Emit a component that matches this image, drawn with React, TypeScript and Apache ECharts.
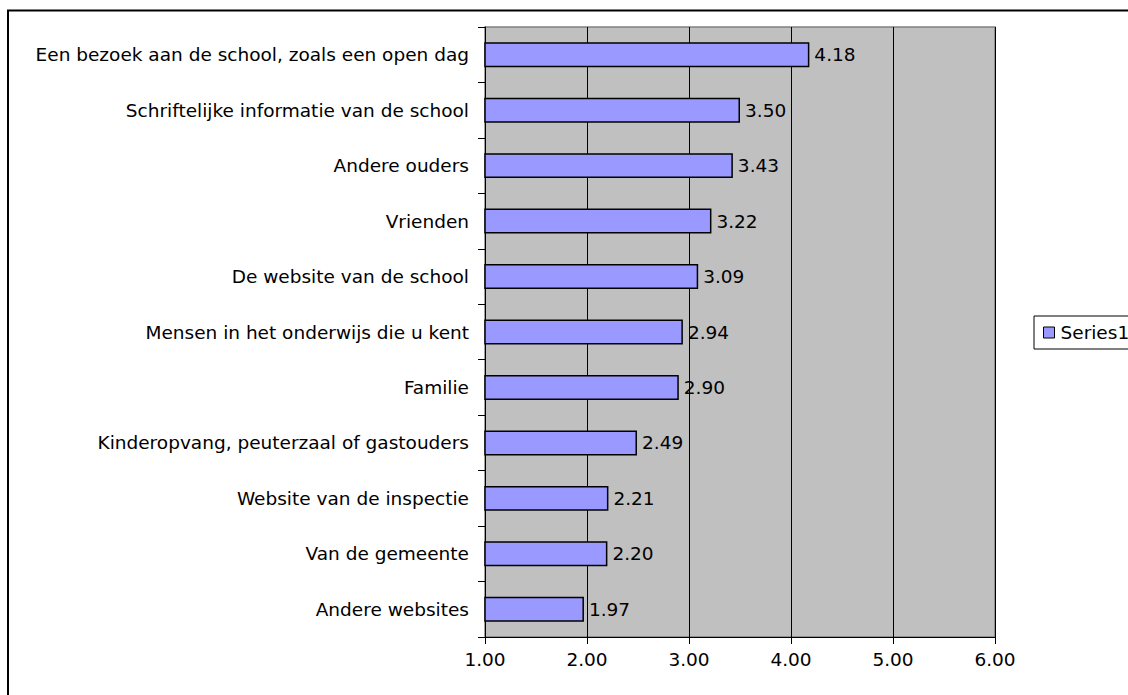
import React, { useEffect, useRef } from "react";
import * as echarts from "echarts";

const categories: string[] = [
  "Een bezoek aan de school, zoals een open dag",
  "Schriftelijke informatie van de school",
  "Andere ouders",
  "Vrienden",
  "De website van de school",
  "Mensen in het onderwijs die u kent",
  "Familie",
  "Kinderopvang, peuterzaal of gastouders",
  "Website van de inspectie",
  "Van de gemeente",
  "Andere websites",
];

const values: number[] = [4.18, 3.5, 3.43, 3.22, 3.09, 2.94, 2.9, 2.49, 2.21, 2.2, 1.97];

const seriesName = "Series1";
const axisMin = 1;
const axisMax = 6;
const axisInterval = 1;

const FONT = "DejaVu Sans, Liberation Sans, Arial, sans-serif";
const FS = 18.5;

export default function App() {
  const ref = useRef<HTMLDivElement>(null);

  useEffect(() => {
    if (!ref.current) return;
    const chart = echarts.init(ref.current, null, { renderer: "svg" });
    chart.setOption({
      animation: false,
      backgroundColor: "#ffffff",
      textStyle: { fontFamily: FONT },
      graphic: [
        {
          type: "rect",
          shape: { x: 8, y: 10.5, width: 1300, height: 900 },
          style: { fill: "none", stroke: "#000", lineWidth: 2 },
          silent: true,
          z: 100,
        },
      ],
      grid: {
        left: 485,
        top: 27,
        right: 133,
        bottom: 58,
        show: true,
        backgroundColor: "#C0C0C0",
        borderColor: "#808080",
        borderWidth: 1.5,
      },
      legend: {
        show: true,
        data: [seriesName],
        left: 1034,
        top: 316,
        orient: "vertical",
        icon: "rect",
        itemWidth: 11,
        itemHeight: 11,
        itemGap: 5,
        padding: [7, 8, 7, 9],
        borderColor: "#000",
        borderWidth: 1,
        backgroundColor: "#fff",
        textStyle: { fontFamily: FONT, fontSize: FS, color: "#000", padding: [0, 0, 0, 1] },
        itemStyle: { borderColor: "#000", borderWidth: 1 },
      },
      xAxis: {
        type: "value",
        min: axisMin,
        max: axisMax,
        interval: axisInterval,
        axisLine: { show: true, lineStyle: { color: "#000", width: 1 } },
        axisTick: { show: true, length: 7, inside: false, lineStyle: { color: "#000" } },
        axisLabel: {
          fontFamily: FONT,
          fontSize: FS,
          color: "#000",
          margin: 13,
          formatter: (v: number) => v.toFixed(2),
        },
        splitLine: { show: true, lineStyle: { color: "#000", width: 1 } },
      },
      yAxis: {
        type: "category",
        data: categories,
        inverse: true,
        axisLine: { show: true, onZero: false, lineStyle: { color: "#000", width: 1 } },
        axisTick: { show: true, length: 7, alignWithLabel: false, lineStyle: { color: "#000" } },
        axisLabel: {
          fontFamily: FONT,
          fontSize: FS,
          color: "#000",
          margin: 16,
        },
        splitLine: { show: false },
      },
      series: [
        {
          name: seriesName,
          type: "bar",
          data: values,
          barWidth: "45%",
          clip: true,
          itemStyle: { color: "#9999FF", borderColor: "#000", borderWidth: 1.5 },
          label: {
            show: true,
            position: "right",
            distance: 5,
            fontFamily: FONT,
            fontSize: FS,
            color: "#000",
            formatter: (p: any) => Number(p.value).toFixed(2),
          },
        },
      ],
    });
    return () => chart.dispose();
  }, []);

  return (
    <div
      ref={ref}
      style={{ position: "absolute", left: 0, top: 0, width: 1128, height: 695 }}
    />
  );
}
